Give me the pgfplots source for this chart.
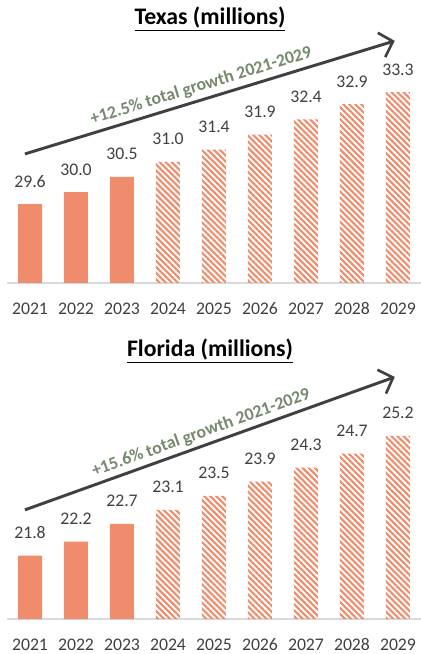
\documentclass[border=0pt]{standalone}
\usepackage{fontspec}
\setmainfont{Carlito}
\usepackage{pgfplots}
\pgfplotsset{compat=1.18}
\usetikzlibrary{patterns.meta,arrows.meta}
\definecolor{salmon}{HTML}{EE8C6B}
\definecolor{txt}{HTML}{404040}
\definecolor{grn}{HTML}{748A6C}
\definecolor{axisgray}{HTML}{D9D9D9}
\pgfplotsset{
  popaxis/.style={
    scale only axis, width=310.5pt,
    xmin=-0.5, xmax=8.5,
    axis x line*=bottom, axis y line=none,
    x axis line style={draw=axisgray, line width=1.2pt, -},
    xtick={0,...,8}, xticklabels={2021,2022,2023,2024,2025,2026,2027,2028,2029},
    major tick length=0pt,
    xticklabel style={font=\fontsize{13.3}{16}\selectfont, text=txt, anchor=north, inner sep=0pt, yshift=-14.6pt},
    ybar, bar width=18pt, bar shift=0pt,
    nodes near coords,
    every node near coord/.append style={font=\fontsize{13.3}{16}\selectfont, text=txt, anchor=south, inner sep=0pt, yshift=12.5pt,
      /pgf/number format/.cd, fixed, fixed zerofill, precision=1, assume math mode=true},
  },
  solidbar/.style={fill=salmon, draw=none},
  hatchbar/.style={draw=none, pattern={Lines[angle=-45, distance=3.2pt, line width=1.6pt]}, pattern color=salmon},
}
\begin{document}
\begin{tikzpicture}[x=1pt,y=1pt]
\useasboundingbox (0,0) rectangle (315.75,490.5);
% Texas
\begin{axis}[popaxis, at={(5.25pt,278.25pt)}, anchor=south west, height=181.8pt, ymin=27, ymax=35]
\addplot[solidbar] coordinates {(0,29.6) (1,30.0) (2,30.5)};
\addplot[hatchbar] coordinates {(3,31.0) (4,31.4) (5,31.9) (6,32.4) (7,32.9) (8,33.3)};
\coordinate (ta) at (axis cs:-0.11,31.26);
\coordinate (tb) at (axis cs:7.93,34.99);
\coordinate (tt) at (axis cs:3.72,33.5);
\end{axis}
\draw[txt, line width=2.2pt, -{Straight Barb[length=9pt,width=19pt,line width=2pt]}] (ta) -- (tb);
\node[rotate=17, text=grn, font=\bfseries\fontsize{13.3}{16}\selectfont, inner sep=0pt] at (tt) {+12.5\% total growth 2021-2029};
\node[anchor=base, font=\bfseries\fontsize{17.8}{20}\selectfont, inner sep=0pt] at (157.5,471.75) {\underline{Texas (millions)}};
% Florida
\begin{axis}[popaxis, at={(5.25pt,26.25pt)}, anchor=south west, height=184.8pt, ymin=20, ymax=27]
\addplot[solidbar] coordinates {(0,21.8) (1,22.2) (2,22.7)};
\addplot[hatchbar] coordinates {(3,23.1) (4,23.5) (5,23.9) (6,24.3) (7,24.7) (8,25.2)};
\coordinate (fa) at (axis cs:-0.11,23.10);
\coordinate (fb) at (axis cs:7.93,26.875);
\coordinate (ft) at (axis cs:3.72,25.28);
\end{axis}
\draw[txt, line width=2.2pt, -{Straight Barb[length=9pt,width=19pt,line width=2pt]}] (fa) -- (fb);
\node[rotate=19.8, text=grn, font=\bfseries\fontsize{13.3}{16}\selectfont, inner sep=0pt] at (ft) {+15.6\% total growth 2021-2029};
\node[anchor=base, font=\bfseries\fontsize{17.8}{20}\selectfont, inner sep=0pt] at (157.5,222.75) {\underline{Florida (millions)}};
\end{tikzpicture}
\end{document}
